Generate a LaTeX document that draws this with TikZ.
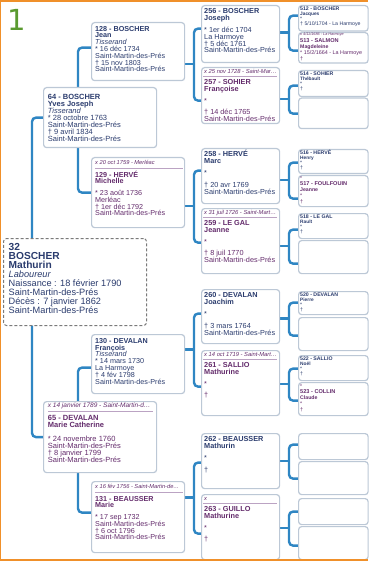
\documentclass[tikz,border=0pt]{standalone}
\usepackage{fontspec}
\setmainfont{Liberation Sans}
\newfontfamily\onefont{DejaVu Sans}
\usetikzlibrary{backgrounds}
\definecolor{navy}{HTML}{2B3C6E}
\definecolor{plum}{HTML}{642C6C}
\definecolor{conncol}{HTML}{2F86C3}
\definecolor{boxline}{HTML}{BCC8D6}
\definecolor{framecol}{HTML}{F0902A}
\definecolor{numgreen}{HTML}{5A9A30}
\definecolor{rulecol}{HTML}{BBA3C3}
\definecolor{dashcol}{HTML}{7A7A7A}
\newcommand\fsz[2]{\fontsize{#1}{#2}\selectfont\lineskiplimit=-20pt\relax}
\newcommand\fl{\rule{0pt}{1em}}
\newcommand\pb[5]{\node[pbox, anchor=north west, minimum width=#4pt, minimum height=#5pt] (#1) at (#2,#3) {};}
\newcommand\tx[6]{\node[txt,#3] (#1) at ([shift={(#4pt,#5pt)}]#2.north west) {\fl#6};}
\newcommand\mr[4]{\draw[mrule] ([shift={(#2pt,-#4pt)}]#1.north west) -- ([shift={(-#3pt,-#4pt)}]#1.north east);}
\begin{document}
\begin{tikzpicture}[x=1pt,y=-1pt,
  pbox/.style={draw=boxline, line width=1.2pt, fill=white, rounded corners=3pt, inner sep=0pt},
  rootbox/.style={draw=dashcol, dash pattern=on 3pt off 2pt, line width=1pt, fill=white, rounded corners=3pt, inner sep=0pt},
  conn/.style={draw=conncol, line width=2.4pt, rounded corners=4pt},
  mrule/.style={draw=rulecol, line width=0.8pt},
  txt/.style={anchor=north west, inner sep=0pt, align=left},
  mc2/.style={text=navy, font=\fsz{7.5}{7.1}},
  fc2m/.style={text=plum, font=\fsz{6.5}{7}\itshape},
  fc2/.style={text=plum, font=\fsz{7.5}{7}},
  mc3/.style={text=navy, font=\fsz{7.2}{6.8}},
  fc3m/.style={text=plum, font=\fsz{5.7}{6}\itshape},
  fc3/.style={text=plum, font=\fsz{7.2}{6.7}},
  mc4/.style={text=navy, font=\fsz{7.3}{6.7}},
  fc4m/.style={text=plum, font=\fsz{5.8}{6}\itshape},
  fc4/.style={text=plum, font=\fsz{7.3}{6.7}},
  mc5/.style={text=navy, font=\fsz{5.2}{5}},
  fc5/.style={text=plum, font=\fsz{5.4}{6}}]
\useasboundingbox (0,0) rectangle (368,561);

% generation number
\node[anchor=base west, inner sep=0pt, text=numgreen, font=\onefont\fontsize{29}{29}\selectfont] (gen) at (6.8,31) {1};

% root
\node[rootbox, anchor=north west, minimum width=143pt, minimum height=87pt] (n32) at (3,238) {};
\node[txt, text=navy, font=\fsz{9.2}{9}] (t32) at ([shift={(5.5pt,-2.8pt)}]n32.north west)
 {\fl{\fsz{10.2}{9}\bfseries 32}\\{\fsz{10.2}{9}\bfseries BOSCHER}\\{\fsz{10.2}{9}\bfseries Mathurin}\\\textit{Laboureur}\\Naissance : 18 février 1790\\Saint-Martin-des-Prés\\Décès : 7 janvier 1862\\Saint-Martin-des-Prés};

% column 2
\pb{n64}{43}{87}{113}{60}
\tx{t64}{n64}{mc2}{4.7}{-4.5}{\textbf{64 - BOSCHER}\\\textbf{Yves Joseph}\\\textit{Tisserand}\\{*} 28 octobre 1763\\Saint-Martin-des-Prés\\† 9 avril 1834\\Saint-Martin-des-Prés}
\pb{n65}{43}{401}{113}{71}
\tx{m65}{n65}{fc2m}{4.7}{0.5}{x 14 janvier 1789 - Saint-Martin-d…}
\mr{n65}{5}{4}{10}
\tx{t65}{n65}{fc2}{4.7}{-12.2}{\textbf{65 - DEVALAN}\\\textbf{Marie Catherine}\\[7pt]{*} 24 novembre 1760\\Saint-Martin-des-Prés\\† 8 janvier 1799\\Saint-Martin-des-Prés}

% column 3
\pb{n128}{91}{22}{93}{58}
\tx{t128}{n128}{mc3}{4}{-1.8}{\textbf{128 - BOSCHER}\\\textbf{Jean}\\\textit{Tisserand}\\{*} 16 déc 1734\\Saint-Martin-des-Prés\\† 15 nov 1803\\Saint-Martin-des-Prés}
\pb{n129}{91}{157}{93}{70}
\tx{m129}{n129}{fc3m}{4}{-1.8}{x 20 oct 1759 - Merléac}
\mr{n129}{4}{2}{11.5}
\tx{t129}{n129}{fc3}{4}{-12.8}{\textbf{129 - HERVÉ}\\\textbf{Michelle}\\[5pt]{*} 23 août 1736\\Merléac\\† 1er déc 1792\\Saint-Martin-des-Prés}
\pb{n130}{91}{334}{93}{59}
\tx{t130}{n130}{mc3}{4}{-1.8}{\textbf{130 - DEVALAN}\\\textbf{François}\\\textit{Tisserand}\\{*} 14 mars 1730\\La Harmoye\\† 4 fév 1798\\Saint-Martin-des-Prés}
\pb{n131}{91}{481}{93}{71}
\tx{m131}{n131}{fc3m}{4}{-1.8}{x 16 fév 1756 - Saint-Martin-de…}
\mr{n131}{4}{2}{11.5}
\tx{t131}{n131}{fc3}{4}{-12.8}{\textbf{131 - BEAUSSER}\\\textbf{Marie}\\[5pt]{*} 17 sep 1732\\Saint-Martin-des-Prés\\† 6 oct 1796\\Saint-Martin-des-Prés}

% column 4
\pb{n256}{201}{5}{78}{57}
\tx{t256}{n256}{mc4}{3}{-1.2}{\textbf{256 - BOSCHER}\\\textbf{Joseph}\\[5.8pt]{*} 1er déc 1704\\La Harmoye\\† 5 déc 1761\\Saint-Martin-des-Prés}
\pb{n257}{201}{67}{78}{56}
\tx{m257}{n257}{fc4m}{3}{-0.2}{x 25 nov 1728 - Saint-Mar…}
\mr{n257}{2.3}{3.3}{9.3}
\tx{t257}{n257}{fc4}{3}{-10.2}{\textbf{257 - SOHIER}\\\textbf{Françoise}\\[5pt]{*}\\[5pt]† 14 déc 1765\\Saint-Martin-des-Prés}
\pb{n258}{201}{148}{78}{55}
\tx{t258}{n258}{mc4}{3}{-1.2}{\textbf{258 - HERVÉ}\\\textbf{Marc}\\[5.8pt]{*}\\[5pt]† 20 avr 1769\\Saint-Martin-des-Prés}
\pb{n259}{201}{208}{78}{65}
\tx{m259}{n259}{fc4m}{3}{-0.2}{x 31 juil 1726 - Saint-Mart…}
\mr{n259}{2.3}{3.3}{9.3}
\tx{t259}{n259}{fc4}{3}{-10.2}{\textbf{259 - LE GAL}\\\textbf{Jeanne}\\[5pt]{*}\\[5pt]† 8 juil 1770\\Saint-Martin-des-Prés}
\pb{n260}{201}{289}{78}{54}
\tx{t260}{n260}{mc4}{3}{-1.2}{\textbf{260 - DEVALAN}\\\textbf{Joachim}\\[5.8pt]{*}\\[5pt]† 3 mars 1764\\Saint-Martin-des-Prés}
\pb{n261}{201}{350}{78}{65}
\tx{m261}{n261}{fc4m}{3}{-0.2}{x 14 oct 1719 - Saint-Mart…}
\mr{n261}{2.3}{3.3}{9.3}
\tx{t261}{n261}{fc4}{3}{-10.2}{\textbf{261 - SALLIO}\\\textbf{Mathurine}\\[5pt]{*}\\[5pt]†}
\pb{n262}{201}{433}{78}{55}
\tx{t262}{n262}{mc4}{3}{-1.2}{\textbf{262 - BEAUSSER}\\\textbf{Mathurin}\\[5.8pt]{*}\\[5pt]†}
\pb{n263}{201}{494}{78}{65}
\tx{m263}{n263}{fc4m}{3}{-0.2}{x}
\mr{n263}{2.3}{3.3}{9.3}
\tx{t263}{n263}{fc4}{3}{-10.2}{\textbf{263 - GUILLO}\\\textbf{Mathurine}\\[5pt]{*}\\[5pt]†}

% column 5
\pb{n512}{298}{5}{69.5}{25.5}
\tx{t512}{n512}{mc5}{2}{-0.5}{\textbf{512 - BOSCHER}\\{\fsz{4.8}{5}\bfseries Jacques}\\{*}\\† 5/10/1704 - La Harmoye}
\pb{n513}{298}{32}{69.5}{30.5}
\tx{t513}{n513}{fc5}{2}{1.6}{{\fsz{3.8}{6}\itshape x 4/11/1686 - La Harmoye}\\[1pt]{\fsz{5.6}{6}\bfseries 513 - SALMON}\\{\fsz{5.2}{6}\bfseries Magdeleine}\\{*} 15/2/1664 - La Harmoye\\†}
\pb{n514}{298}{70}{69.5}{26}
\tx{t514}{n514}{mc5}{2}{-0.5}{\textbf{514 - SOHIER}\\{\fsz{4.8}{5}\bfseries Thébault}\\{*}\\†}
\pb{n515}{298}{97.5}{69.5}{30.5}
\pb{n516}{298}{149}{69.5}{24}
\tx{t516}{n516}{mc5}{2}{-0.5}{\textbf{516 - HERVÉ}\\{\fsz{4.8}{5}\bfseries Henry}\\{*}\\†}
\pb{n517}{298}{175}{69.5}{31}
\tx{t517}{n517}{fc5}{2}{1.6}{{\fsz{3.8}{6}\itshape x}\\[1pt]{\fsz{5.6}{6}\bfseries 517 - FOULFOUIN}\\{\fsz{5.2}{6}\bfseries Jeanne}\\{*}\\†}
\pb{n518}{298}{213}{69.5}{25}
\tx{t518}{n518}{mc5}{2}{-0.5}{\textbf{518 - LE GAL}\\{\fsz{4.8}{5}\bfseries Rault}\\{*}\\†}
\pb{n519}{298}{240}{69.5}{33}
\pb{n520}{298}{291}{69.5}{23}
\tx{t520}{n520}{mc5}{2}{-0.5}{\textbf{520 - DEVALAN}\\{\fsz{4.8}{5}\bfseries Pierre}\\{*}\\†}
\pb{n521}{298}{317}{69.5}{33}
\pb{n522}{298}{355}{69.5}{25}
\tx{t522}{n522}{mc5}{2}{-0.5}{\textbf{522 - SALLIO}\\{\fsz{4.8}{5}\bfseries Noël}\\{*}\\†}
\pb{n523}{298}{382}{69.5}{33}
\tx{t523}{n523}{fc5}{2}{1.6}{{\fsz{3.8}{6}\itshape x}\\[1pt]{\fsz{5.6}{6}\bfseries 523 - COLLIN}\\{\fsz{5.2}{6}\bfseries Claude}\\{*}\\†}
\pb{n524}{298}{433}{69.5}{26}
\pb{n525}{298}{461}{69.5}{33}
\pb{n526}{298}{498}{69.5}{26}
\pb{n527}{298}{526}{69.5}{33}

% connectors
\begin{scope}[on background layer]
\coordinate (jr) at (32,280);
\draw[conn] (n64.west) -| (jr) |- (n65.west);
\coordinate (j64) at (78,117);
\draw[conn] ([yshift=4pt]n128.west) -| (j64) |- (n129.west);
\coordinate (j65) at (78,436);
\draw[conn] ([yshift=-3.5pt]n130.west) -| (j65) |- ([yshift=4.5pt]n131.west);
% column 3 -> 4
\coordinate (j128) at (194,64);
\draw[conn] (n128.east |- j128) -- (j128);
\draw[conn] ([yshift=5.5pt]n256.west) -| (j128) |- ([yshift=-5pt]n257.west);
\coordinate (j129) at (194,206);
\draw[conn] (n129.east |- j129) -- (j129);
\draw[conn] ([yshift=5.5pt]n258.west) -| (j129) |- ([yshift=-1.5pt]n259.west);
\coordinate (j130) at (194,349.5);
\draw[conn] (n130.east |- j130) -- (j130);
\draw[conn] ([yshift=3pt]n260.west) -| (j130) |- ([yshift=-3.5pt]n261.west);
\coordinate (j131) at (194,497.5);
\draw[conn] (n131.east |- j131) -- (j131);
\draw[conn] ([yshift=-1.5pt]n262.west) -| (j131) |- ([yshift=-6.5pt]n263.west);
% column 4 -> 5
\coordinate (j256) at (289,32.5);
\draw[conn] (n256.east |- j256) -- (j256);
\draw[conn] ([yshift=2.75pt]n512.west) -| (j256) |- ([yshift=-2.75pt]n513.west);
\coordinate (j257) at (289,99);
\draw[conn] (n257.east |- j257) -- (j257);
\draw[conn] ([yshift=-2pt]n514.west) -| (j257) |- ([yshift=-0.25pt]n515.west);
\coordinate (j258) at (289,180);
\draw[conn] (n258.east |- j258) -- (j258);
\draw[conn] ([yshift=-1pt]n516.west) -| (j258) |- ([yshift=-7.5pt]n517.west);
\coordinate (j259) at (289,246);
\draw[conn] (n259.east |- j259) -- (j259);
\draw[conn] ([yshift=-3.5pt]n518.west) -| (j259) |- ([yshift=-6.5pt]n519.west);
\coordinate (j260) at (289,318.5);
\draw[conn] (n260.east |- j260) -- (j260);
\draw[conn] ([yshift=0.5pt]n520.west) -| (j260) |- ([yshift=-1.5pt]n521.west);
\coordinate (j261) at (289,384);
\draw[conn] (n261.east |- j261) -- (j261);
\draw[conn] ([yshift=-0.5pt]n522.west) -| (j261) |- ([yshift=-1.5pt]n523.west);
\coordinate (j262) at (289,461);
\draw[conn] (n262.east |- j262) -- (j262);
\draw[conn] ([yshift=2pt]n524.west) -| (j262) |- ([yshift=-0.5pt]n525.west);
\coordinate (j263) at (289,528);
\draw[conn] (n263.east |- j263) -- (j263);
\draw[conn] (n526.west) -| (j263) |- ([yshift=-2.5pt]n527.west);
\end{scope}

% orange frame
\fill[framecol] (0,0) rectangle (368,2.3);
\fill[framecol] (0,0) rectangle (1.3,561);
\fill[framecol] (0,558.7) rectangle (368,561);
\end{tikzpicture}
\end{document}
